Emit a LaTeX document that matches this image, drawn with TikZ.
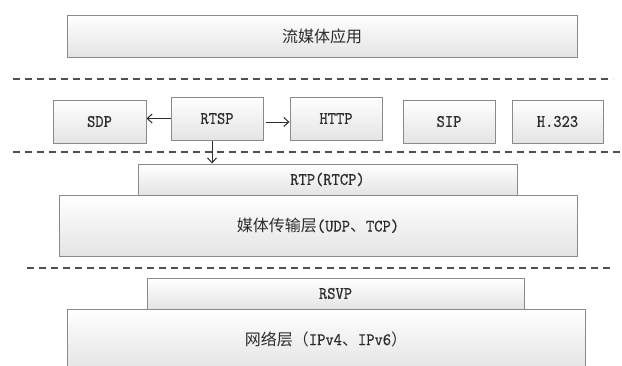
\documentclass[tikz,border=0pt]{standalone}
\usepackage{fontspec}
\newfontfamily\cjk{Noto Sans CJK SC}
\setmonofont{lmmono10-regular.otf}[FakeStretch=0.9, FakeBold=0.5]
\usetikzlibrary{arrows.meta}
\pgfdeclarelayer{edgelayer}
\pgfdeclarelayer{nodelayer}
\pgfsetlayers{edgelayer,nodelayer,main}
\definecolor{boxline}{HTML}{8A8A8A}
\definecolor{boxlow}{HTML}{E4E4E4}
\definecolor{sepline}{HTML}{505050}
\definecolor{ink}{HTML}{2B2B2B}
\tikzstyle{layer}=[draw=boxline, line width=0.9pt, top color=white, bottom color=boxlow, inner sep=0pt, text=ink, font=\fontsize{17.5}{19}\selectfont\ttfamily]
\tikzstyle{proto}=[layer, minimum width=92pt, minimum height=43pt]
\tikzstyle{sep}=[draw=sepline, line width=1.1pt, dash pattern=on 7pt off 5pt]
\tikzstyle{link}=[draw=ink, line width=1pt, -{Straight Barb[length=5pt,width=9pt]}]

\begin{document}
\begin{tikzpicture}[x=1pt, y=-1pt]
			\useasboundingbox (0, 0) rectangle (622, 365);
			\begin{pgfonlayer}{nodelayer}
			\node [style=layer, minimum width=510pt, minimum height=42pt] (app) at (322, 36) {\fontsize{16}{18}\cjk 流媒体应用};
			\node [style=proto, minimum width=93pt] (sdp) at (99.5, 121.5) {SDP};
			\node [style=proto] (rtsp) at (217, 118.5) {RTSP};
			\node [style=proto] (http) at (336, 118.5) {HTTP};
			\node [style=proto] (sip) at (449, 121.5) {SIP};
			\node [style=proto, minimum width=91pt] (h323) at (557.5, 121.5) {H.323};
			\node [style=layer, minimum width=379pt, minimum height=31pt] (rtp) at (327.5, 179.5) {RTP(RTCP)};
			\node [style=layer, minimum width=518pt, minimum height=61pt] (media) at (318, 225.5) {{\fontsize{16}{18}\cjk 媒体传输层}(UDP{\fontsize{16}{18}\cjk 、}TCP)};
			\node [style=layer, minimum width=377pt, minimum height=31pt] (rsvp) at (335.5, 293.5) {RSVP};
			\node [style=layer, minimum width=518pt, minimum height=60pt] (net) at (326, 339) {{\fontsize{16}{18}\cjk 网络层（}IPv4{\fontsize{16}{18}\cjk 、}IPv6{\fontsize{16}{18}\cjk ）}};
			\coordinate (s1a) at (13, 79);
			\coordinate (s1b) at (613, 79);
			\coordinate (s2a) at (13, 152);
			\coordinate (s2b) at (622, 152);
			\coordinate (s3a) at (27, 268);
			\coordinate (s3b) at (613, 268);
			\end{pgfonlayer}
			\begin{pgfonlayer}{edgelayer}
			\draw [style=sep] (s1a) to (s1b);
			\draw [style=sep] (s2a) to (s2b);
			\draw [style=sep] (s3a) to (s3b);
			\draw [style=link] (rtsp.west) to (rtsp.west -| sdp.east);
			\draw [style=link] ([xshift=3pt, yshift=-3.5pt]rtsp.east) to ([yshift=-3.5pt]rtsp.east -| http.west);
			\draw [style=link] ([xshift=-5pt]rtsp.south) to ([xshift=-5pt]rtsp.south |- rtp.north);
			\end{pgfonlayer}
			\end{tikzpicture}
\end{document}
